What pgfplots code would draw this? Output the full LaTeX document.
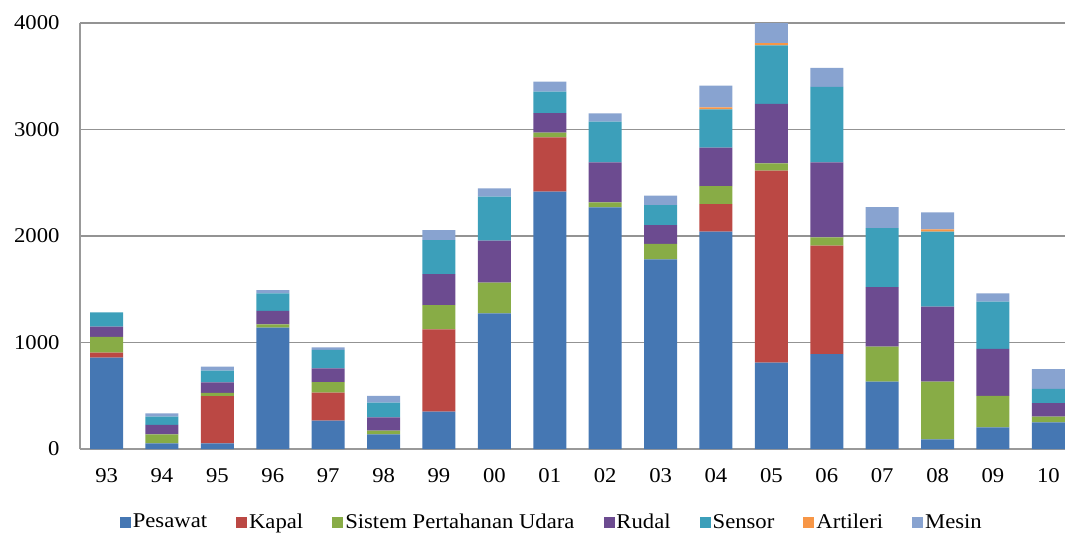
\documentclass[border=0pt]{standalone}
\usepackage{pgfplots}
\usepackage{pgfplotstable}
\pgfplotsset{compat=1.18}
\usepackage{fontspec}
\setmainfont{Liberation Serif}[FakeStretch=1.08]
\definecolor{cPes}{HTML}{4577B3}
\definecolor{cKap}{HTML}{BB4844}
\definecolor{cSis}{HTML}{88AC46}
\definecolor{cRud}{HTML}{6C4B90}
\definecolor{cSen}{HTML}{3C9FBA}
\definecolor{cArt}{HTML}{F79646}
\definecolor{cMes}{HTML}{88A3D0}
\pgfplotstableread{
x P K S R Se A M
0 857 47 150 94 135 0 0
1 53 0 85 88 78 0 30
2 53 444 31 98 109 0 38
3 1139 0 31 128 163 0 31
4 266 263 98 131 172 0 25
5 138 0 34 125 138 0 63
6 350 774 228 291 319 0 94
7 1274 0 288 394 413 0 78
8 2416 511 44 182 203 0 94
9 2269 0 47 376 381 0 78
10 1781 0 144 178 188 0 88
11 2040 260 169 360 360 19 203
12 811 1803 69 557 551 19 194
13 892 1017 78 704 710 0 178
14 632 0 329 558 554 0 197
15 91 0 541 704 704 22 160
16 204 0 294 441 444 0 78
17 251 0 53 126 134 0 185
}\datatable
\begin{document}
\begin{tikzpicture}[font=\fontsize{21bp}{25bp}\selectfont]
\begin{axis}[
  scale only axis,
  width=985bp, height=426bp,
  ybar stacked,
  bar width=33bp,
  xmin=-0.48, xmax=17.3,
  ymin=0, ymax=4000,
  xtick={0,...,17},
  xticklabels={93,94,95,96,97,98,99,00,01,02,03,04,05,06,07,08,09,10},
  ytick={0,1000,2000,3000,4000},
  /pgf/number format/1000 sep={},
  /pgf/number format/assume math mode=true,
  major tick length=0pt,
  axis x line=bottom, axis y line=left,
  axis line style={-, draw=gray!80, line width=1.2bp},
  ymajorgrids,
  grid style={draw=gray!85, line width=1.2bp},
  xticklabel style={yshift=-16bp},
  yticklabel style={xshift=-17bp},
  legend style={at={(0.479,-0.171)}, anchor=center, draw=none, fill=none,
    legend columns=-1, /tikz/every even column/.append style={column sep=27bp},
    font=\fontsize{21bp}{25bp}\selectfont, inner sep=0pt},
  legend image code/.code={\fill[#1,draw=none] (0bp,-6bp) rectangle (11bp,5bp);},
  every axis plot/.append style={draw=none},
]
\addplot[fill=cPes] table[x=x,y=P]{\datatable};
\addplot[fill=cKap] table[x=x,y=K]{\datatable};
\addplot[fill=cSis] table[x=x,y=S]{\datatable};
\addplot[fill=cRud] table[x=x,y=R]{\datatable};
\addplot[fill=cSen] table[x=x,y=Se]{\datatable};
\addplot[fill=cArt] table[x=x,y=A]{\datatable};
\addplot[fill=cMes] table[x=x,y=M]{\datatable};
\legend{Pesawat,Kapal,Sistem Pertahanan Udara,Rudal,Sensor,Artileri,Mesin}
\end{axis}
\pgfresetboundingbox
\path[use as bounding box] ([xshift=-80bp,yshift=-87bp]current axis.south west) rectangle ([yshift=23bp]current axis.north east);
\end{tikzpicture}
\end{document}
